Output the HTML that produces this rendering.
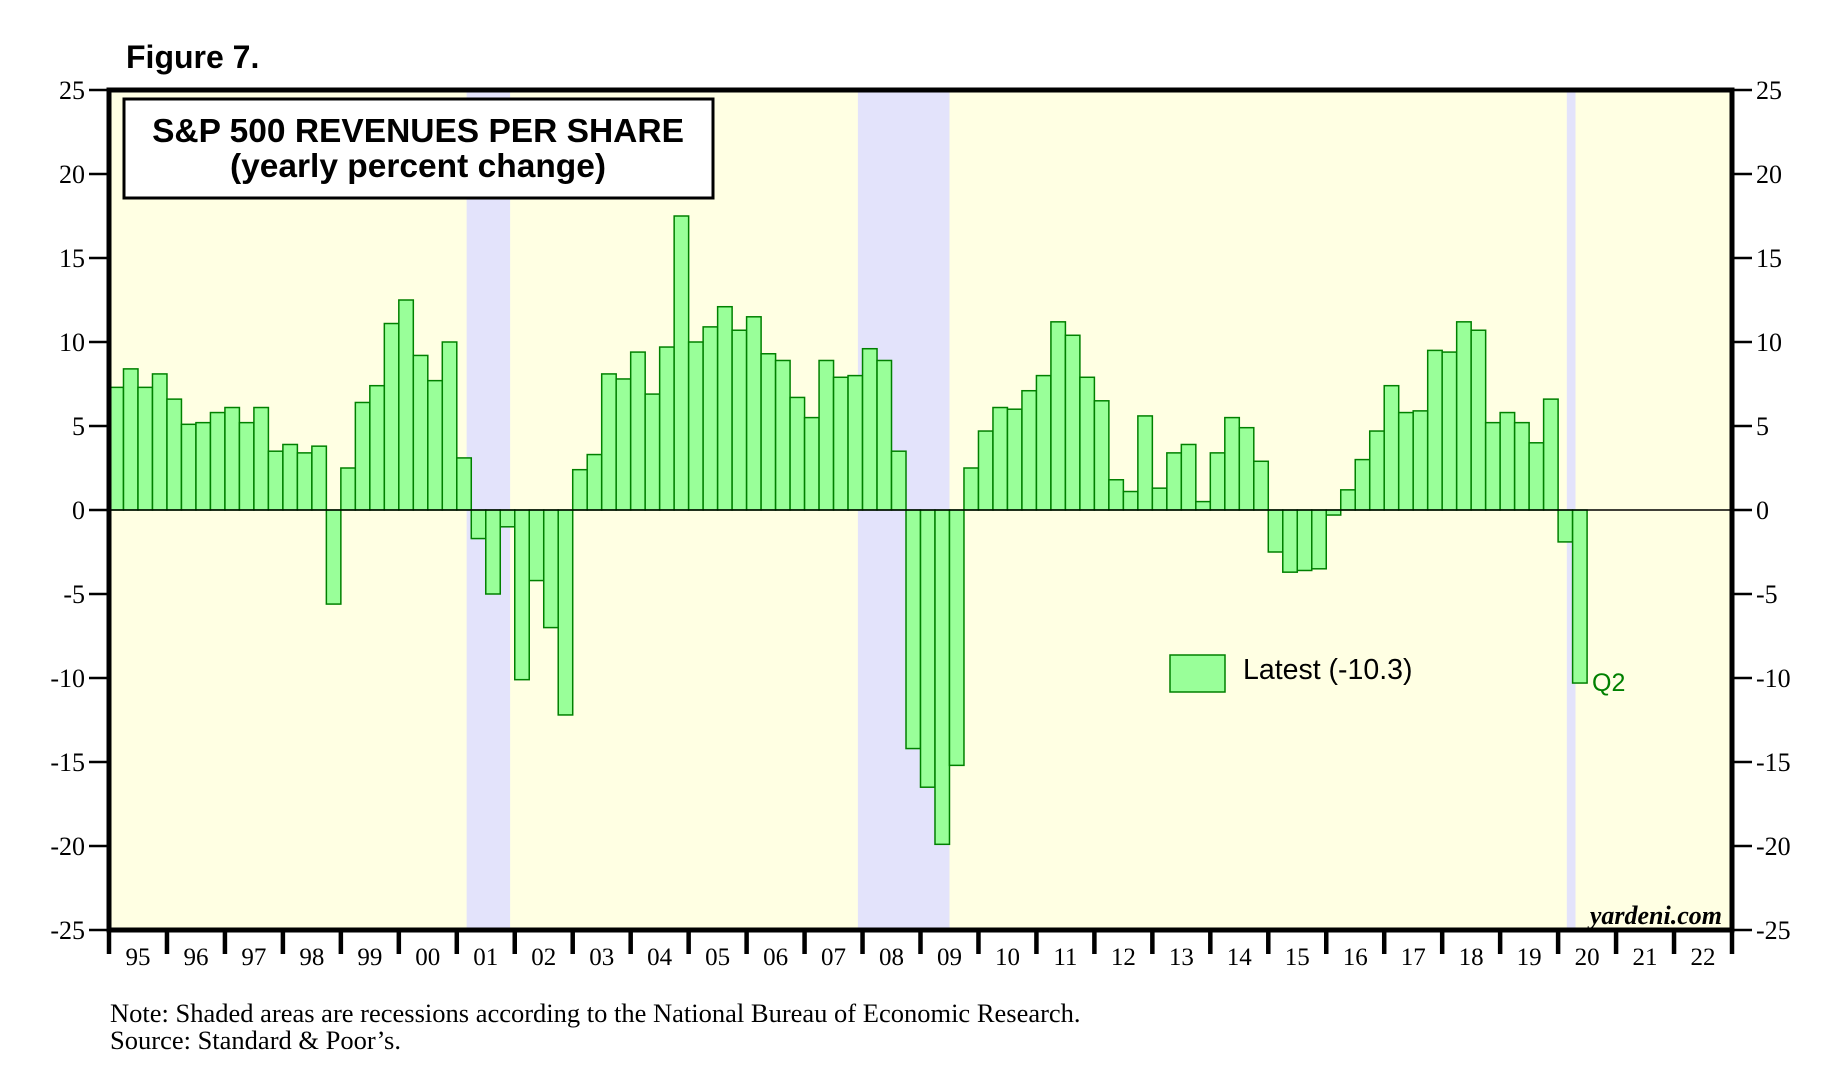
<!DOCTYPE html>
<html><head><meta charset="utf-8"><style>
body{margin:0;background:#fff;}
svg{display:block;}
</style></head><body>
<svg id="chart" width="1841" height="1080" xmlns="http://www.w3.org/2000/svg">
<text x="126" y="68" font-family="Liberation Sans, sans-serif" font-weight="bold" font-size="32">Figure 7.</text>
<rect x="109" y="90" width="1623" height="840" fill="#ffffe3"/>
<g id="shades"></g>
<g id="bars"></g>
<g id="axes"></g>
<rect x="109" y="90" width="1623" height="840" fill="none" stroke="#000" stroke-width="5"/>
<g>
<rect x="124" y="99" width="589" height="99" fill="#fff" stroke="#000" stroke-width="3"/>
<text x="418" y="142" text-anchor="middle" font-family="Liberation Sans, sans-serif" font-weight="bold" font-size="33.5">S&amp;P 500 REVENUES PER SHARE</text>
<text x="418" y="177" text-anchor="middle" font-family="Liberation Sans, sans-serif" font-weight="bold" font-size="33.5">(yearly percent change)</text>
</g>
<g>
<rect x="1170" y="655" width="55" height="37" fill="#99ff99" stroke="#008000" stroke-width="1.5"/>
<text x="1243" y="679" font-family="Liberation Sans, sans-serif" font-size="28.5">Latest (-10.3)</text>
</g>
<text x="1592" y="691" fill="#008000" font-family="Liberation Sans, sans-serif" font-size="25">Q2</text>
<text x="1722" y="924" text-anchor="end" font-family="Liberation Serif, serif" font-style="italic" font-weight="bold" font-size="26">yardeni.com</text>
<text x="110" y="1022" font-family="Liberation Serif, serif" font-size="26.5">Note: Shaded areas are recessions according to the National Bureau of Economic Research.</text>
<text x="110" y="1049" font-family="Liberation Serif, serif" font-size="26.5">Source: Standard &amp; Poor’s.</text>
</svg>
<script>
const values = [
7.3,8.4,7.3,8.1, 6.6,5.1,5.2,5.8, 6.1,5.2,6.1,3.5, 3.9,3.4,3.8,-5.6,
2.5,6.4,7.4,11.1, 12.5,9.2,7.7,10.0, 3.1,-1.7,-5.0,-1.0, -10.1,-4.2,-7.0,-12.2,
2.4,3.3,8.1,7.8, 9.4,6.9,9.7,17.5, 10.0,10.9,12.1,10.7, 11.5,9.3,8.9,6.7,
5.5,8.9,7.9,8.0, 9.6,8.9,3.5,-14.2, -16.5,-19.9,-15.2,2.5, 4.7,6.1,6.0,7.1,
8.0,11.2,10.4,7.9, 6.5,1.8,1.1,5.6, 1.3,3.4,3.9,0.5, 3.4,5.5,4.9,2.9,
-2.5,-3.7,-3.6,-3.5, -0.3,1.2,3.0,4.7, 7.4,5.8,5.9,9.5, 9.4,11.2,10.7,5.2,
5.8,5.2,4.0,6.6, -1.9,-10.3];
const startYear = 1995;
const yearLabels = ["95","96","97","98","99","00","01","02","03","04","05","06","07","08","09","10","11","12","13","14","15","16","17","18","19","20","21","22"];
const yTicks = [25,20,15,10,5,0,-5,-10,-15,-20,-25];
const recessionStarts = [2001.17, 2007.92, 2020.15];
const recessionEnds = [2001.92, 2009.5, 2020.3];

const NS="http://www.w3.org/2000/svg";
const L=109,R=1732,T=90,B=930;
const x0=1995,x1=2023;
const X=t=>L+(t-x0)/(x1-x0)*(R-L);
const Y=v=>T+(25-v)/50*(B-T);
function mk(tag,attrs,parent){const e=document.createElementNS(NS,tag);for(const k in attrs)e.setAttribute(k,attrs[k]);parent.appendChild(e);return e;}
const shades=document.getElementById('shades'),bars=document.getElementById('bars'),axes=document.getElementById('axes');
recessionStarts.forEach((s,i)=>{
  const r=mk('rect',{x:X(s),y:T,width:X(recessionEnds[i])-X(s),height:B-T,fill:'#e3e3fb'},shades);
  
  
});
values.forEach((v,i)=>{
  const t=startYear+i/4;
  const xa=X(t),xb=X(t+0.25);
  const r=mk('rect',{x:xa,y:Math.min(Y(v),Y(0)),width:xb-xa,height:Math.abs(Y(v)-Y(0)),fill:'#99ff99',stroke:'#008000','stroke-width':1.5},bars);
  
  
});
const zl=mk('line',{x1:L,x2:R,y1:Y(0),y2:Y(0),stroke:'#000','stroke-width':1.5},axes);


yTicks.forEach(v=>{
  const y=Y(v);
  mk('line',{x1:L-20,x2:L,y1:y,y2:y,stroke:'#000','stroke-width':2.5},axes);
  mk('line',{x1:R,x2:R+20,y1:y,y2:y,stroke:'#000','stroke-width':2.5},axes);
  const a=mk('text',{x:L-24,y:y+9,'text-anchor':'end','font-family':'Liberation Serif, serif','font-size':26},axes);
  a.textContent=v;
  
  
  const b=mk('text',{x:R+24,y:y+9,'font-family':'Liberation Serif, serif','font-size':26},axes);
  b.textContent=v;
  
  
});
yearLabels.forEach((lab,i)=>{
  mk('line',{x1:X(x0+i),x2:X(x0+i),y1:B,y2:B+24,stroke:'#000','stroke-width':4.5},axes);
  const t=mk('text',{x:(X(x0+i)+X(x0+i+1))/2,y:B+35,'text-anchor':'middle','font-family':'Liberation Serif, serif','font-size':25},axes);
  t.textContent=lab;
  
  
});
mk('line',{x1:R,x2:R,y1:B,y2:B+24,stroke:'#000','stroke-width':4.5},axes);
</script>
</body></html>
